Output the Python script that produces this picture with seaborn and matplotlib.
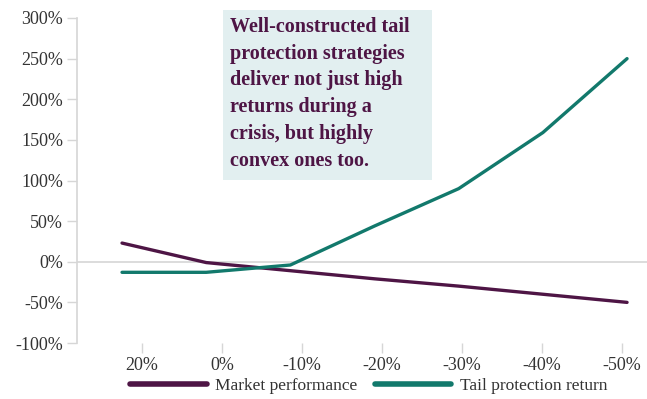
import numpy as np
import pandas as pd
import matplotlib
matplotlib.use("Agg")
import matplotlib.pyplot as plt
import seaborn as sns
from matplotlib.patches import Rectangle
from matplotlib.lines import Line2D

# ---- data ----
x_labels = ["20%", "0%", "-10%", "-20%", "-30%", "-40%", "-50%"]
market_perf = [23, -1, -11, -21, -30, -40, -50]
tail_return = [-13, -13, -4, 44, 90, 159, 250]
series_names = ["Market performance", "Tail protection return"]
y_ticks = [-100, -50, 0, 50, 100, 150, 200, 250, 300]
annotation = ("Well-constructed tail\nprotection strategies\ndeliver not just high\n"
              "returns during a\ncrisis, but highly\nconvex ones too.")

PURPLE = "#4e1545"
TEAL = "#12796c"
GRID = "#d6d6d6"

idx = np.arange(len(x_labels))
df = pd.DataFrame({
    "idx": np.concatenate([idx, idx]),
    "value": market_perf + tail_return,
    "series": [series_names[0]] * len(idx) + [series_names[1]] * len(idx),
})

sns.set_theme(style="white")
plt.rcParams["font.family"] = ["Liberation Serif", "DejaVu Serif"]

W, H = 647, 399
fig = plt.figure(figsize=(W / 100, H / 100), dpi=100)
ax = fig.add_axes([77 / W, 1 - 343 / H, (647 - 77) / W, (343 - 18) / H])

ax.axhline(0, color=GRID, lw=1.2, zorder=1)

sns.lineplot(data=df, x="idx", y="value", hue="series",
             palette=[PURPLE, TEAL], linewidth=2.4, ax=ax, legend=False, zorder=3)

ax.set_xlim(-0.535, 6.237)
ax.set_ylim(-100, 300)
ax.set_yticks(y_ticks)
ax.set_yticklabels([f"{v}%" for v in y_ticks], fontsize=13, color="#333333")
tick_pos = np.linspace(0.2376, 5.94, len(x_labels))
ax.set_xticks(tick_pos)
ax.set_xticklabels(x_labels, fontsize=13, color="#333333")
ax.set_xlabel("")
ax.set_ylabel("")

for s in ["top", "right", "bottom"]:
    ax.spines[s].set_visible(False)
ax.spines["left"].set_color(GRID)
ax.spines["left"].set_linewidth(1.2)
ax.tick_params(axis="y", length=7, width=1.0, color=GRID, pad=3, left=True)
ax.tick_params(axis="x", length=7, width=1.0, color=GRID, pad=3, bottom=True)

# annotation box
fig.patches.append(Rectangle((223 / W, 1 - 180 / H), (432 - 223) / W, (180 - 10) / H,
                             transform=fig.transFigure, facecolor="#e2eff0",
                             edgecolor="none", zorder=0))
fig.text(230 / W, 1 - 17 / H, annotation, ha="left", va="top", fontsize=14.5,
         fontweight="bold", color=PURPLE, linespacing=1.45)

# legend
handles = [Line2D([0], [0], color=PURPLE, lw=4, solid_capstyle="round"),
           Line2D([0], [0], color=TEAL, lw=4, solid_capstyle="round")]
fig.legend(handles, series_names, loc="center", bbox_to_anchor=(369 / W, 1 - 386 / H),
           ncol=2, frameon=False, fontsize=12.5, handlelength=4.4, handletextpad=0.5,
           columnspacing=1.0, labelcolor="#333333")

fig.savefig("out.png", dpi=100)
